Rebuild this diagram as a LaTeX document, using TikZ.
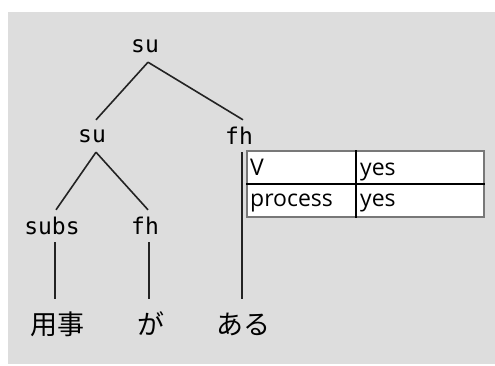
\documentclass[tikz,border=0pt]{standalone}
\usepackage{fontspec}
\newfontfamily\treefont{DejaVu Sans Mono}
\newfontfamily\tabfont{Open Sans}
\newfontfamily\cjk{Noto Sans CJK JP}
\definecolor{bgray}{RGB}{221,221,221}
\definecolor{edgecol}{RGB}{35,35,35}
\definecolor{framecol}{RGB}{120,120,120}
\tikzset{
  lab/.style={inner sep=0pt, minimum height=32pt, font=\treefont\fontsize{23}{23}\selectfont},
  word/.style={inner sep=0pt, minimum height=50pt, font=\cjk\fontsize{27}{27}\selectfont},
  branch/.style={draw=edgecol, line width=1.6pt},
  tabtext/.style={inner sep=0pt, anchor=base west, font=\tabfont\fontsize{23}{23}\selectfont},
  tablebox/.style={fill=white, draw=framecol, line width=2pt, inner sep=0pt, minimum width=237pt, minimum height=66pt},
  tabline/.style={draw=black, line width=1.6pt}
}
\begin{document}
\begin{tikzpicture}[x=1pt,y=-1pt]
\useasboundingbox (0,0) rectangle (495,365);
\fill[bgray] (8,12) rectangle (495,364);
% tree nodes
\node[lab] (r) at (145,46) {su};
\node[lab] (a) at (92,136) {su};
\node[lab] (b) at (239,136) {fh};
\node[lab] (c) at (52,226) {subs};
\node[lab] (d) at (145,226) {fh};
\node[word] (w1) at (57,324) {用事};
\node[word] (w2) at (151,324) {が};
\node[word] (w3) at (243,324) {ある};
% connectors
\draw[branch] ([xshift=3pt]r.south) -- ([xshift=4pt]a.north);
\draw[branch] ([xshift=3pt]r.south) -- ([xshift=4pt]b.north);
\draw[branch] ([xshift=4pt]a.south) -- ([xshift=4pt]c.north);
\draw[branch] ([xshift=4pt]a.south) -- ([xshift=3pt]d.north);
\draw[branch] ([xshift=3pt]c.south) -- ([xshift=-2pt]w1.north);
\draw[branch] ([xshift=4pt]d.south) -- ([xshift=-2pt]w2.north);
\draw[branch] ([xshift=3pt]b.south) -- ([xshift=-1pt]w3.north);
% feature table
\node[tablebox, anchor=north west] (tbl) at (246,150) {};
\draw[tabline] (tbl.west) -- (tbl.east);
\draw[tabline] ([xshift=110pt]tbl.north west) -- ([xshift=110pt]tbl.south west);
\node[tabtext] (k1) at (250,175) {V};
\node[tabtext] (v1) at (360,175) {yes};
\node[tabtext] (k2) at (250,206) {process};
\node[tabtext] (v2) at (360,206) {yes};
\end{tikzpicture}
\end{document}
